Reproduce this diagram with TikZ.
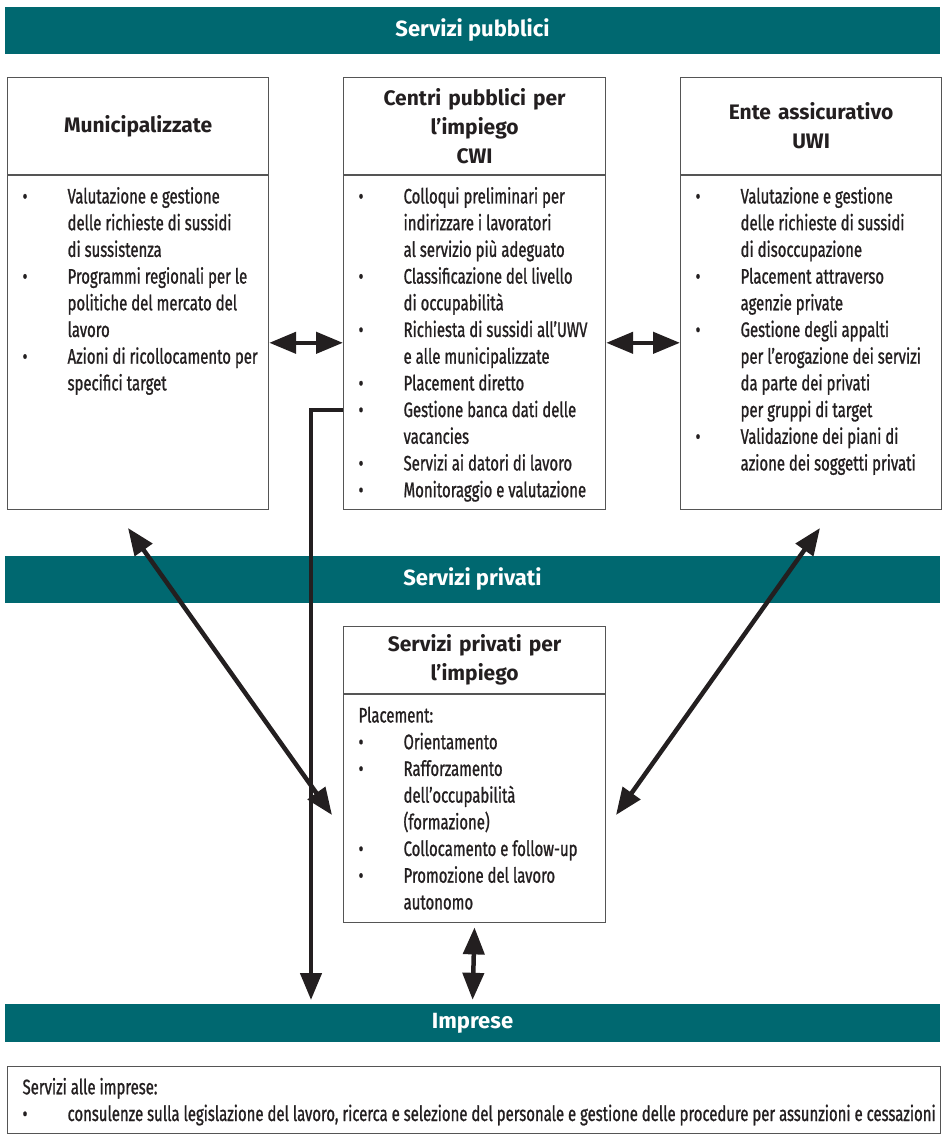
\documentclass[tikz,border=0pt]{standalone}
\usepackage{fontspec}
\setmainfont{Fira Sans}
\newfontfamily\bodyfont[FakeStretch=0.71,FakeBold=1]{Fira Sans}
\usepackage{tikz}
\usetikzlibrary{arrows.meta}

\definecolor{bandteal}{RGB}{0,104,112}
\definecolor{boxgray}{RGB}{85,85,85}
\definecolor{inkblack}{RGB}{35,31,32}

% bullet item with hanging text
\newcommand{\itm}[1]{\par\hangindent=45pt\hangafter=1\noindent\strut\makebox[45pt][l]{\textbullet}#1}
% top aligned body of a box: width, height, content
\newcommand{\fillbox}[3]{\parbox[t][#2][t]{#1}{\leftskip=15pt\rightskip=0pt plus 1fil\bodyfont\fontsize{21}{26.7}\selectfont\color{inkblack}\vspace*{9pt}#3}}

\tikzset{
    band/.style={fill=bandteal, text=white, inner sep=0pt, minimum width=935pt,
        font=\bfseries\fontsize{22}{26}\selectfont},
    head/.style={draw=boxgray, line width=1.2pt, anchor=north west, inner sep=0pt,
        text width=250pt, align=center, text=inkblack,
        font=\bfseries\fontsize{21}{29}\selectfont},
    body/.style={draw=boxgray, line width=1.2pt, anchor=north west, inner sep=0pt},
    link/.style={line width=4.5pt, draw=inkblack,
        {Triangle[length=27pt,width=21pt]}-{Triangle[length=27pt,width=21pt]}},
    oneway/.style={line width=4.5pt, draw=inkblack, -{Triangle[length=27pt,width=21pt]}}
}

\begin{document}
\begin{tikzpicture}[x=1pt,y=-1pt]
    \useasboundingbox (0,0) rectangle (943,1138);

    % Draw the three bands
    \node[band, minimum height=47pt] (pubband) at (472.5,30.5) {Servizi pubblici};
    \node[band, minimum height=47pt] (privband) at (472.5,579.5) {Servizi privati};
    \node[band, minimum height=38pt] (impband) at (472.5,1023) {Imprese};

    % Draw the public boxes
    \node[head, minimum width=261pt, minimum height=97pt] (munH) at (7,77) {Municipalizzate};
    \node[body] (munB) at (munH.south west) {\fillbox{261pt}{334pt}{%
        \itm{Valutazione e gestione\\delle richieste di sussidi\\di sussistenza}
        \itm{Programmi regionali per le\\politiche del mercato del\\lavoro}
        \itm{Azioni di ricollocamento per\\specifici target}}};

    \node[head, minimum width=262pt, minimum height=97pt] (cwiH) at (343,77) {Centri pubblici per\\l’impiego\\CWI};
    \node[body] (cwiB) at (cwiH.south west) {\fillbox{262pt}{334pt}{%
        \itm{Colloqui preliminari per\\indirizzare i lavoratori\\al servizio più adeguato}
        \itm{Classificazione del livello\\di occupabilità}
        \itm{Richiesta di sussidi all’UWV\\e alle municipalizzate}
        \itm{Placement diretto}
        \itm{Gestione banca dati delle\\vacancies}
        \itm{Servizi ai datori di lavoro}
        \itm{Monitoraggio e valutazione}}};

    \node[head, minimum width=261pt, minimum height=97pt] (uwiH) at (680,77) {Ente assicurativo\\UWI};
    \node[body] (uwiB) at (uwiH.south west) {\fillbox{261pt}{334pt}{%
        \itm{Valutazione e gestione\\delle richieste di sussidi\\di disoccupazione}
        \itm{Placement attraverso\\agenzie private}
        \itm{Gestione degli appalti\\per l’erogazione dei servizi\\da parte dei privati\\per gruppi di target}
        \itm{Validazione dei piani di\\azione dei soggetti privati}}};

    % Draw the private box
    \node[head, minimum width=262pt, minimum height=67pt] (spiH) at (343,626) {Servizi privati per\\l’impiego};
    \node[body] (spiB) at (spiH.south west) {\fillbox{262pt}{228pt}{%
        \strut Placement:
        \itm{Orientamento}
        \itm{Rafforzamento\\dell’occupabilità\\(formazione)}
        \itm{Collocamento e follow-up}
        \itm{Promozione del lavoro\\autonomo}}};

    % Draw the box under Imprese
    \node[body] (impB) at (7,1066) {\fillbox{933pt}{67pt}{%
        \strut Servizi alle imprese:
        \itm{consulenze sulla legislazione del lavoro, ricerca e selezione del personale e gestione delle procedure per assunzioni e cessazioni}}};

    % Free ends of the long arrows
    \coordinate (munTip) at (128,528);
    \coordinate (uwiTip) at (820,528);
    \coordinate (spiLeft) at (332,815);
    \coordinate (spiRight) at (616,815);
    \coordinate (impTip) at (311,1000);

    % Draw the arrows
    \draw[link] (munB.east) -- (cwiB.west);
    \draw[link] (cwiB.east) -- (uwiB.west);
    \draw[link] (munTip) -- (spiLeft);
    \draw[link] (uwiTip) -- (spiRight);
    \draw[oneway] ([yshift=-67pt]cwiB.west) -| (impTip);
    \draw[link, shorten <=4pt, shorten >=4pt] (spiB.south) -- (impband.north);
\end{tikzpicture}
\end{document}
